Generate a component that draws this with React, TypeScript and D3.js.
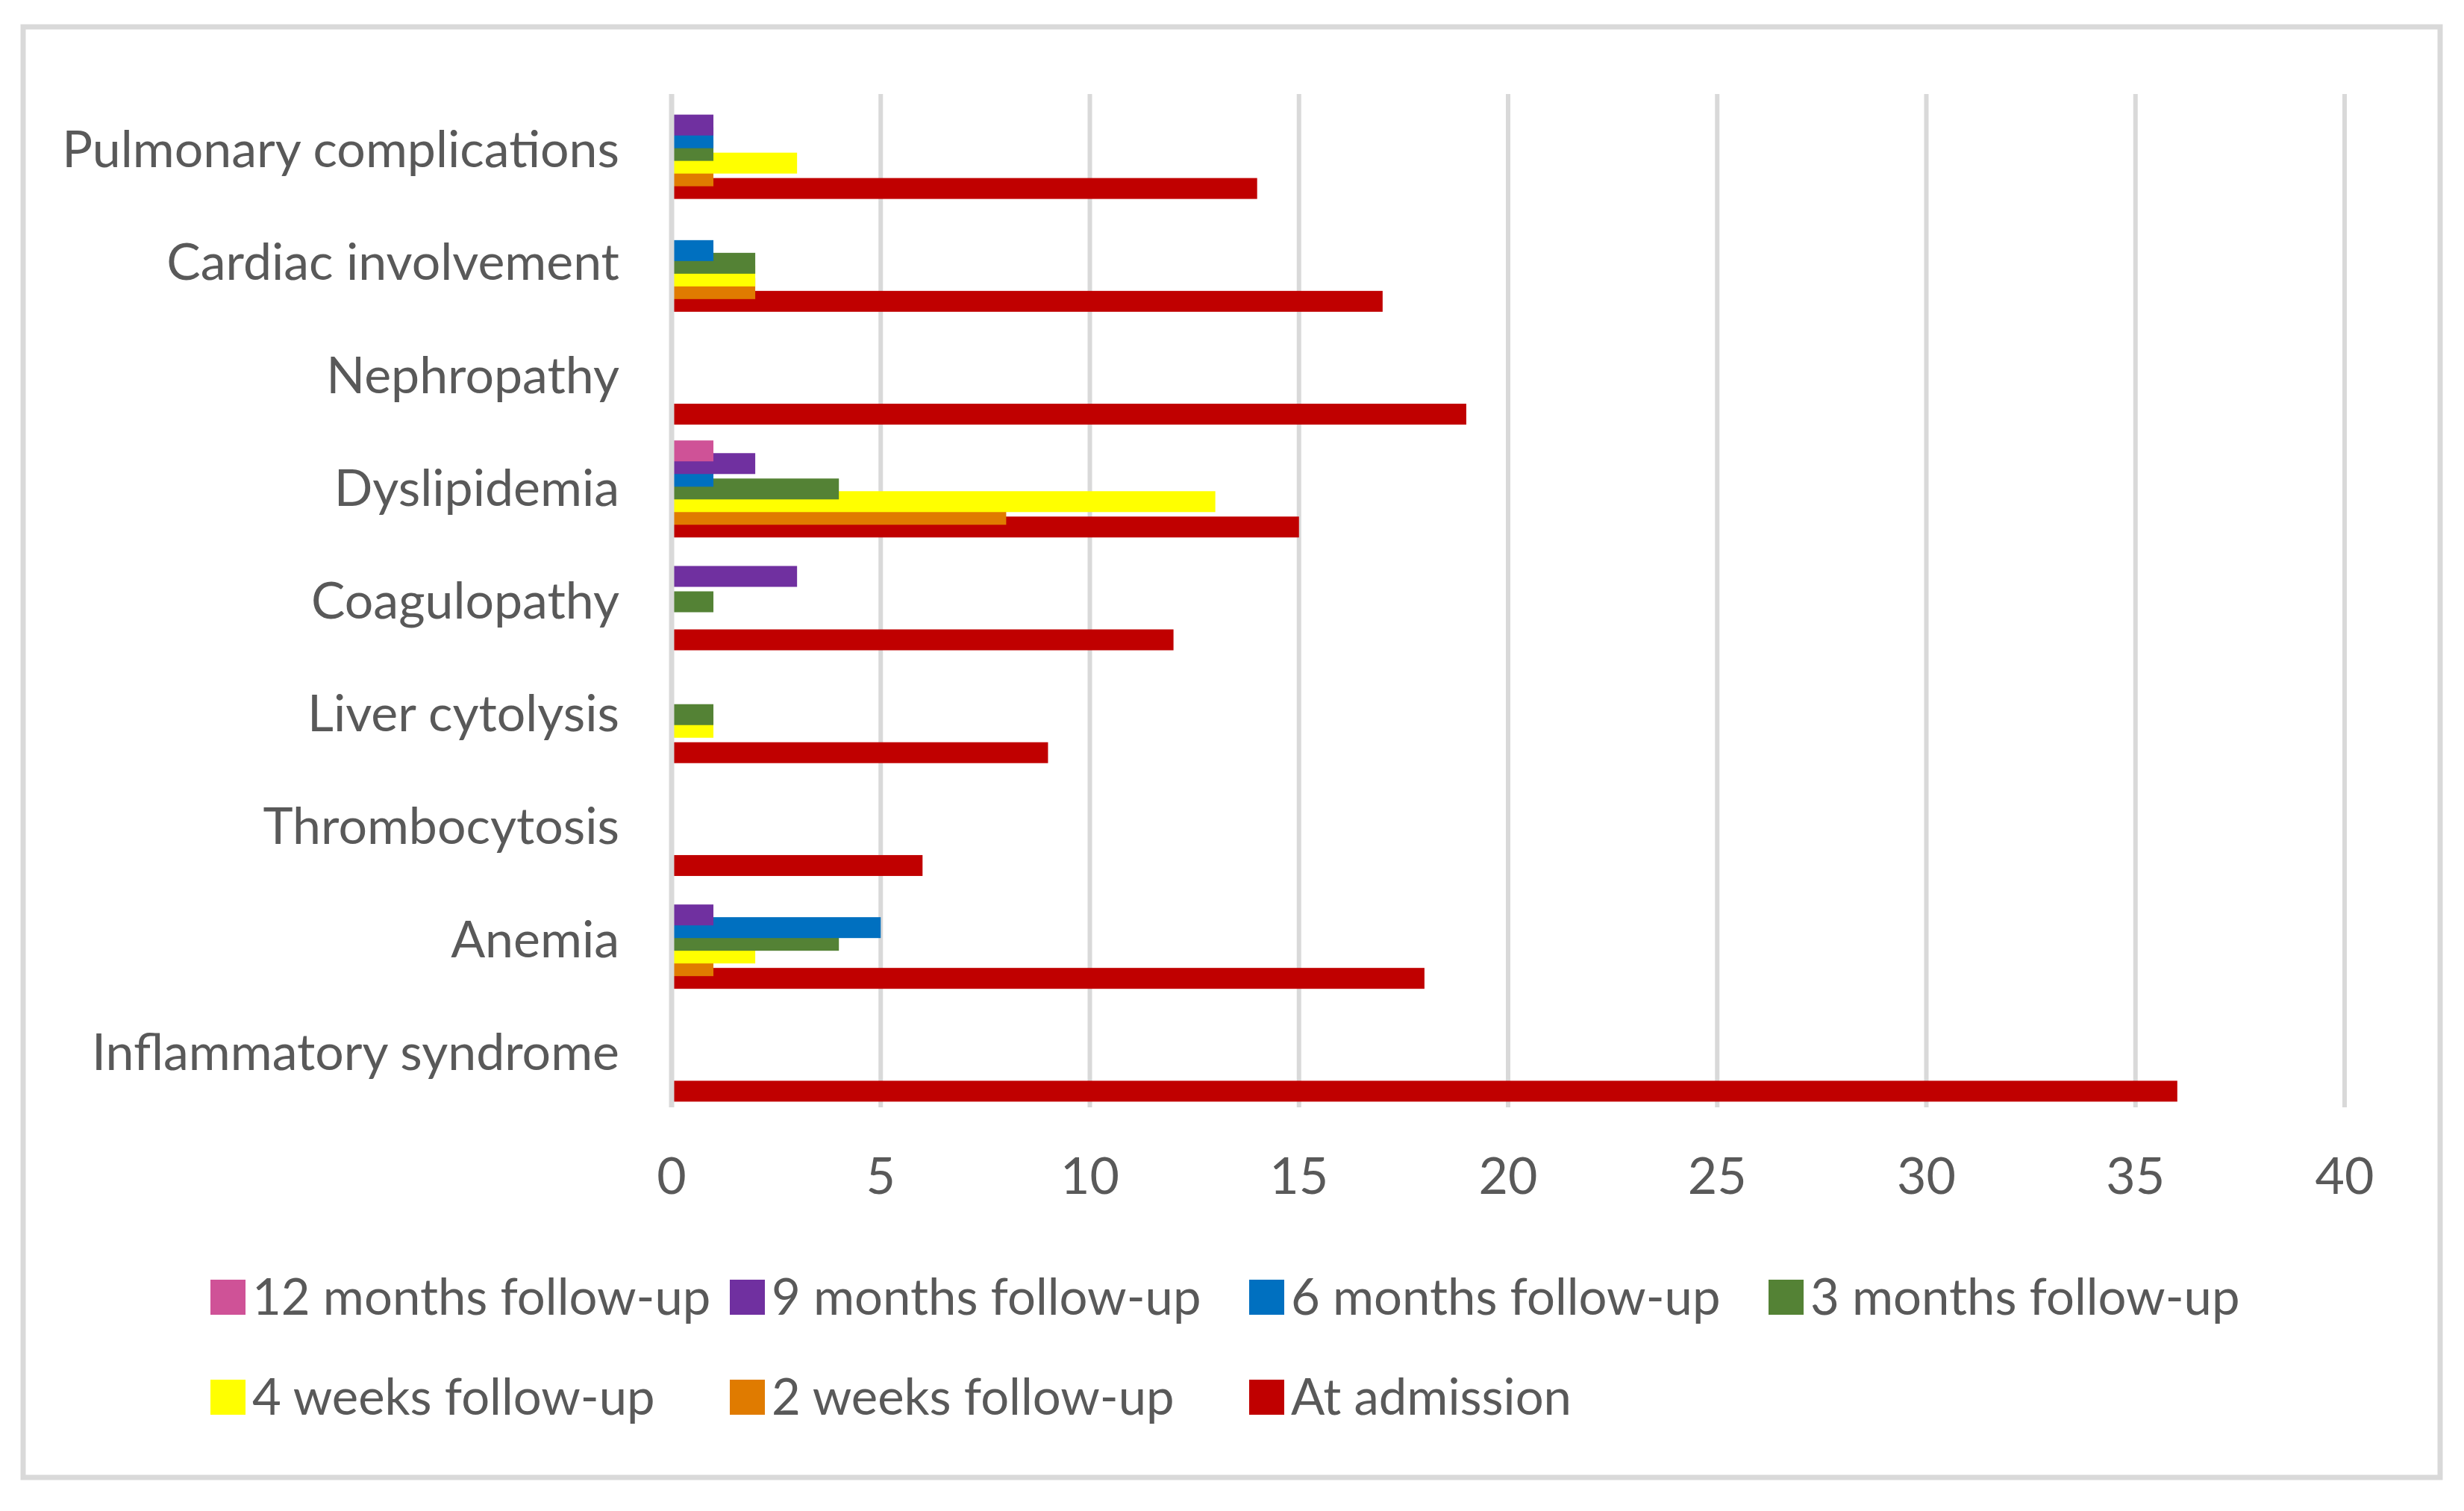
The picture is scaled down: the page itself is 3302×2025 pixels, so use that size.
import React from "react";
import * as d3 from "d3";

// categories, top to bottom as drawn
const categories = [
  "Pulmonary complications",
  "Cardiac involvement",
  "Nephropathy",
  "Dyslipidemia",
  "Coagulopathy",
  "Liver cytolysis",
  "Thrombocytosis",
  "Anemia",
  "Inflammatory syndrome",
];

// series in legend order (also top-to-bottom order inside each group)
const seriesNames = [
  "12 months follow-up",
  "9 months follow-up",
  "6 months follow-up",
  "3 months follow-up",
  "4 weeks follow-up",
  "2 weeks follow-up",
  "At admission",
];

const seriesColors = [
  "#CF5297",
  "#7030A0",
  "#0070C0",
  "#548235",
  "#FFFF00",
  "#E07B00",
  "#C00000",
];

const months12 = [0, 0, 0, 1, 0, 0, 0, 0, 0];
const months9 = [1, 0, 0, 2, 3, 0, 0, 1, 0];
const months6 = [1, 1, 0, 1, 0, 0, 0, 5, 0];
const months3 = [1, 2, 0, 4, 1, 1, 0, 4, 0];
const weeks4 = [3, 2, 0, 13, 0, 1, 0, 2, 0];
const weeks2 = [1, 2, 0, 8, 0, 0, 0, 1, 0];
const atAdmission = [14, 17, 19, 15, 12, 9, 6, 18, 36];

const seriesValues = [months12, months9, months6, months3, weeks4, weeks2, atAdmission];

const xTicks = [0, 5, 10, 15, 20, 25, 30, 35, 40];

const W = 3302;
const H = 2025;
const textColor = "#595959";
const gridColor = "#D9D9D9";
const font = "Lato, 'Open Sans', sans-serif";

export default function App() {
  const x = d3.scaleLinear().domain([0, 40]).range([900, 3142]);
  const y = d3.scaleBand<string>().domain(categories).range([126, 1487]).padding(0);

  const barH = 28;
  const step = 17;
  const groupSpan = step * (seriesNames.length - 1) + barH;
  const offset = (y.bandwidth() - groupSpan) / 2;
  const yOff = d3
    .scaleLinear()
    .domain([0, seriesNames.length - 1])
    .range([offset, offset + step * (seriesNames.length - 1)]);

  // red (last series) is painted first, upper bars overlap it
  const drawOrder = d3.range(seriesNames.length).reverse();

  const legendX = (i: number) => 282 + (i % 4) * 696;
  const legendY = (i: number) => (i < 4 ? 1738 : 1872);

  return (
    <svg
      width={W}
      height={H}
      style={{ position: "absolute", left: 0, top: 0, background: "#fff" }}
      fontFamily={font}
    >
      <rect x={0} y={0} width={W} height={H} fill="#fff" />
      <rect x={31} y={36} width={3239} height={1944} fill="none" stroke={gridColor} strokeWidth={7} />

      {/* gridlines */}
      {xTicks.slice(1).map((t) => (
        <line key={t} x1={x(t)} x2={x(t)} y1={126} y2={1484} stroke={gridColor} strokeWidth={6} />
      ))}

      {/* bars */}
      {drawOrder.map((si) => (
        <g key={seriesNames[si]} fill={seriesColors[si]}>
          {categories.map((c, ci) => {
            const v = seriesValues[si][ci];
            if (!v) return null;
            return (
              <rect
                key={c}
                x={x(0)}
                y={(y(c) || 0) + yOff(si)}
                width={x(v) - x(0)}
                height={barH}
              />
            );
          })}
        </g>
      ))}

      {/* zero line on top */}
      <line x1={x(0)} x2={x(0)} y1={126} y2={1484} stroke={gridColor} strokeWidth={7} />

      {/* category labels */}
      {categories.map((c) => (
        <text
          key={c}
          x={830}
          y={(y(c) || 0) + y.bandwidth() / 2 - 4}
          textAnchor="end"
          dominantBaseline="central"
          fontSize={68}
          fill={textColor}
        >
          {c}
        </text>
      ))}

      {/* tick labels */}
      {xTicks.map((t) => (
        <text key={t} x={x(t)} y={1600} textAnchor="middle" fontSize={68} fill={textColor}>
          {t}
        </text>
      ))}

      {/* legend */}
      {seriesNames.map((s, i) => (
        <g key={s} transform={`translate(${legendX(i)},${legendY(i)})`}>
          <rect x={0} y={-23} width={47} height={47} fill={seriesColors[i]} />
          <text x={56} y={-2} dominantBaseline="central" fontSize={67} fill={textColor}>
            {s}
          </text>
        </g>
      ))}
    </svg>
  );
}
